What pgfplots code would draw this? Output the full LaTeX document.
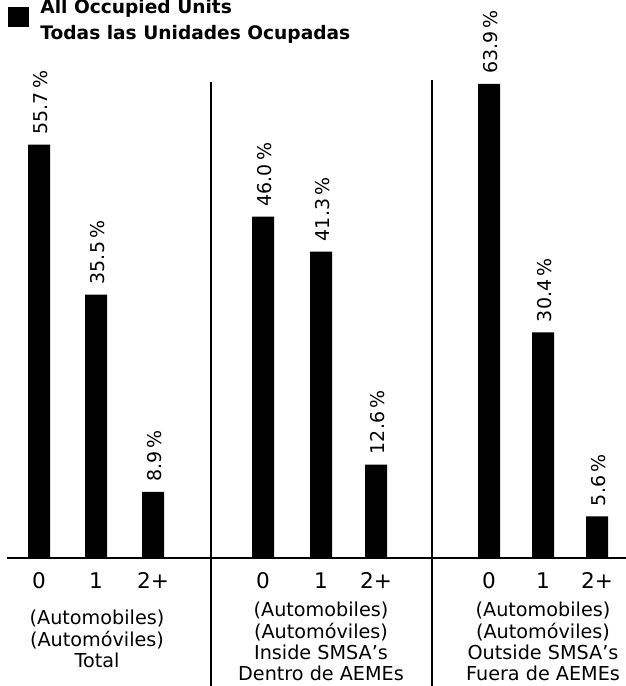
\documentclass[border=0pt]{standalone}
\usepackage{pgfplots}
\pgfplotsset{compat=1.18}
\usepackage{fontspec}
\setmainfont{DejaVu Sans}
\begin{document}
\begin{tikzpicture}
\begin{axis}[
  at={(0pt,64pt)}, anchor=south west,
  scale only axis, width=313pt, height=259.7pt,
  xmin=0, xmax=626, ymin=0, ymax=70,
  axis line style={draw=none},
  ytick=\empty,
  xtick={39,96,153,263,321,376,489,543,597},
  xticklabels={0,1,2+,0,1,2+,0,1,2+},
  major tick length=0pt,
  xticklabel style={font=\fontsize{10.8}{12}\selectfont, inner sep=0pt, anchor=north, yshift=-7pt},
  ybar, bar width=22, bar shift=0pt,
  clip=false,
  point meta=explicit symbolic,
  nodes near coords={\pgfplotspointmeta\,\%},
  nodes near coords style={font=\fontsize{9.5}{11}\selectfont, rotate=90, anchor=west, inner sep=0pt, xshift=5pt, yshift=-1pt},
  legend image code/.code={\fill[black] (0pt,-7pt) rectangle (10.5pt,3pt);},
  legend cell align=left,
  legend style={draw=none, fill=none, inner sep=0pt,
    at={(axis description cs:0.0128,1.0843)}, anchor=north west,
    font=\bfseries\fontsize{9.3}{13}\selectfont,
    nodes={inner sep=0pt, anchor=base west},
    /tikz/every odd column/.append style={column sep=5.5pt}},
]
\addplot[fill=black, draw=none] coordinates {
  (39,55.7)[55.7] (96,35.5)[35.5] (153,8.9)[8.9]
  (263,46.0)[46.0] (321,41.3)[41.3] (376,12.6)[12.6]
  (489,63.9)[63.9] (543,30.4)[30.4] (597,5.6)[5.6]};
\addlegendentry{\begin{tabular}[t]{@{}l@{}}All Occupied Units\\Todas las Unidades Ocupadas\end{tabular}}

% baseline and panel dividers
\draw[line width=1pt] (axis cs:7,0) -- (axis cs:626,0);
\draw[line width=0.7pt] (axis cs:211,64.15) -- (axis cs:211,-17.3);
\draw[line width=0.7pt] (axis cs:432,64.4) -- (axis cs:432,-17.3);

\begin{scope}[every node/.style={anchor=north, inner sep=0pt, align=center, font=\fontsize{9.6}{10.7}\selectfont}]
\node at (axis cs:97,-7.0) {(Automobiles)\\(Automóviles)\\Total};
\node at (axis cs:321,-5.9) {(Automobiles)\\(Automóviles)\\Inside SMSA’s\\Dentro de AEMEs};
\node at (axis cs:543,-5.9) {(Automobiles)\\(Automóviles)\\Outside SMSA’s\\Fuera de AEMEs};
\end{scope}
\end{axis}
\pgfresetboundingbox
\useasboundingbox (0,0) rectangle (313pt,343pt);
\end{tikzpicture}
\end{document}
